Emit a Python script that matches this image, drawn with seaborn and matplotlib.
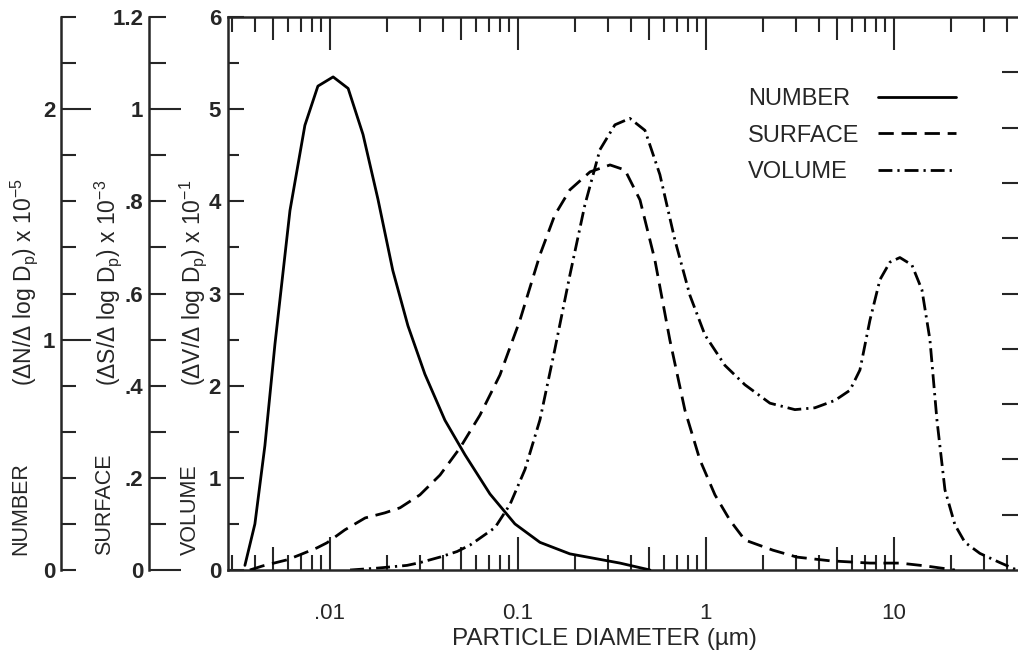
import matplotlib
matplotlib.use("Agg")
import matplotlib.pyplot as plt
import seaborn as sns
from matplotlib.ticker import FixedLocator, FixedFormatter, NullFormatter

## Data (diameter in um)
# number distribution, dN/dlogDp x 1e-5
number_d = [0.00353, 0.00399, 0.00451, 0.00510, 0.00613, 0.00736, 0.00863, 0.0104, 0.0125, 0.0150,
            0.0180, 0.0216, 0.0260, 0.0320, 0.0409, 0.0523, 0.0710, 0.0964, 0.131, 0.189, 0.349, 0.504]
number_v = [0.02, 0.20, 0.54, 0.98, 1.56, 1.93, 2.10, 2.14, 2.09, 1.89,
            1.61, 1.30, 1.06, 0.85, 0.65, 0.50, 0.33, 0.20, 0.12, 0.07, 0.03, 0.0]

# surface distribution, dS/dlogDp x 1e-3
surface_d = [0.00375, 0.00440, 0.00591, 0.00693, 0.00853, 0.00964, 0.0120, 0.0154, 0.0196, 0.0236,
             0.0301, 0.0385, 0.0492, 0.0628, 0.0802, 0.1025, 0.131, 0.157, 0.189, 0.242,
             0.309, 0.371, 0.446, 0.535, 0.643, 0.773, 0.929, 1.117, 1.342, 1.612,
             2.272, 3.048, 4.566, 7.454, 10.76, 14.62, 21.11]
surface_v = [0.0, 0.009, 0.022, 0.033, 0.048, 0.059, 0.087, 0.113, 0.124, 0.135,
             0.163, 0.206, 0.265, 0.336, 0.423, 0.542, 0.684, 0.770, 0.825, 0.864,
             0.879, 0.868, 0.803, 0.673, 0.499, 0.347, 0.239, 0.163, 0.108, 0.065,
             0.043, 0.028, 0.020, 0.015, 0.015, 0.009, 0.0]

# volume distribution, dV/dlogDp x 1e-1
volume_d = [0.0128, 0.0178, 0.0257, 0.0301, 0.0385, 0.0474, 0.0556, 0.0613, 0.0755, 0.0907,
            0.109, 0.131, 0.157, 0.189, 0.227, 0.273, 0.328, 0.394, 0.474, 0.569,
            0.684, 0.822, 0.988, 1.262, 1.612, 2.190, 2.974, 3.800, 4.855, 5.834,
            6.594, 7.454, 8.426, 9.522, 10.76, 12.46, 14.09, 15.54, 16.93, 18.68,
            21.11, 23.86, 28.67, 36.63, 45.11]
volume_v = [0.0, 0.02, 0.05, 0.08, 0.14, 0.20, 0.27, 0.33, 0.46, 0.71,
            1.09, 1.63, 2.39, 3.20, 3.96, 4.56, 4.83, 4.90, 4.77, 4.29,
            3.58, 2.98, 2.55, 2.22, 2.01, 1.81, 1.74, 1.76, 1.84, 1.95,
            2.17, 2.71, 3.15, 3.34, 3.39, 3.31, 3.04, 2.50, 1.63, 0.87,
            0.49, 0.30, 0.18, 0.08, 0.0]

x_major = [0.01, 0.1, 1, 10]
x_major_labels = ['.01', '0.1', '1', '10']
surface_ticks = [0, 0.2, 0.4, 0.6, 0.8, 1.0, 1.2]
surface_labels = ['0', '.2', '.4', '.6', '.8', '1', '1.2']
number_ticks = [0, 1, 2]
number_labels = ['0', '1', '2']
legend_labels = ['NUMBER', 'SURFACE', 'VOLUME']

sns.set_style("ticks")
plt.rcParams['font.family'] = ['Liberation Sans', 'DejaVu Sans']
plt.rcParams['mathtext.fontset'] = 'custom'
plt.rcParams['mathtext.rm'] = 'Liberation Sans'
plt.rcParams['axes.linewidth'] = 1.8

W, H = 1018, 654
fig = plt.figure(figsize=(W / 100, H / 100), dpi=100)
L0, R0, T0, B0 = 228, 1022, 17, 570
ax = fig.add_axes([L0 / W, 1 - B0 / H, (R0 - L0) / W, (B0 - T0) / H])
ax.set_xscale('log')
ax.set_xlim(0.00287, 48.0)
ax.set_ylim(0, 6)

ax_n = ax.twinx()
ax_s = ax.twinx()
ax_r = ax.twinx()
ax_n.set_ylim(0, 2.4)
ax_s.set_ylim(0, 1.2)
ax_r.set_ylim(0, 1)

lw = 2.0
sns.lineplot(x=volume_d, y=volume_v, ax=ax, color='black', linewidth=lw, sort=False, estimator=None)
sns.lineplot(x=number_d, y=number_v, ax=ax_n, color='black', linewidth=lw, sort=False, estimator=None)
sns.lineplot(x=surface_d, y=surface_v, ax=ax_s, color='black', linewidth=lw, sort=False, estimator=None)
line_v = ax.lines[-1]
line_n = ax_n.lines[-1]
line_s = ax_s.lines[-1]
line_s.set_linestyle((0, (5.5, 2.8)))
line_v.set_linestyle((0, (5.0, 1.8, 0.8, 1.8)))
for l in (line_v, line_n, line_s):
    l.set_solid_capstyle('round')
    l.set_dash_capstyle('butt')

for a in (ax, ax_n, ax_s, ax_r):
    a.set_xlabel('')
    a.set_ylabel('')

PT = 0.72  # pixels -> points

# main axis frame
ax.spines['right'].set_visible(False)
ax.xaxis.set_major_locator(FixedLocator(x_major))
ax.xaxis.set_major_formatter(FixedFormatter(x_major_labels))
x_minor = [m * 10.0 ** k for k in range(-3, 2) for m in range(2, 10) if 0.00287 < m * 10.0 ** k < 48]
ax.xaxis.set_minor_locator(FixedLocator(x_minor))
ax.xaxis.set_minor_formatter(NullFormatter())
ax.tick_params(axis='x', which='both', direction='in', top=True, bottom=True, width=1.5, labelsize=16, pad=24)
ax.tick_params(axis='x', which='major', length=33 * PT)
for t, loc in zip(ax.xaxis.get_minor_ticks(len(x_minor)), x_minor):
    mant = loc / 10 ** int(f"{loc:e}".split('e')[1])
    n = 23 * PT if round(mant, 3) == 5 else 15 * PT
    t.tick1line.set_markersize(n)
    t.tick2line.set_markersize(n)

ax.yaxis.set_major_locator(FixedLocator(range(0, 7)))
ax.yaxis.set_minor_locator(FixedLocator([i + 0.5 for i in range(6)]))
ax.tick_params(axis='y', which='both', direction='in', left=True, right=False, width=1.5)
ax.tick_params(axis='y', which='major', length=16 * PT, labelsize=16, pad=5)
ax.tick_params(axis='y', which='minor', length=11 * PT)
for lab in ax.get_yticklabels():
    lab.set_fontweight('bold')

# number and surface axes, offset to the left
for a, xpix, pad in ((ax_n, 61, 4), (ax_s, 149, 4)):
    for s in ('top', 'bottom', 'right'):
        a.spines[s].set_visible(False)
    a.spines['left'].set_visible(True)
    a.spines['left'].set_position(('axes', (xpix - L0) / (R0 - L0)))
    a.yaxis.tick_left()
    a.tick_params(axis='y', which='both', direction='in', left=True, right=False, width=1.5,
                  labelsize=16, pad=pad)

ax_n.yaxis.set_major_locator(FixedLocator(number_ticks))
ax_n.yaxis.set_major_formatter(FixedFormatter(number_labels))
n_minor = [round(0.2 * i, 1) for i in range(1, 13) if i % 5 != 0]
ax_n.yaxis.set_minor_locator(FixedLocator(n_minor))
ax_n.tick_params(axis='y', which='major', length=30 * PT)
ax_n.tick_params(axis='y', which='minor', length=15 * PT)
ax_n.yaxis.get_major_ticks(len(number_ticks))[0].tick1line.set_markersize(15 * PT)

ax_s.yaxis.set_major_locator(FixedLocator(surface_ticks))
ax_s.yaxis.set_major_formatter(FixedFormatter(surface_labels))
ax_s.yaxis.set_minor_locator(FixedLocator([0.1, 0.3, 0.5, 0.7, 0.9, 1.1]))
ax_s.tick_params(axis='y', which='both', length=17 * PT)
for t, loc in zip(ax_s.yaxis.get_major_ticks(len(surface_ticks)), surface_ticks):
    if loc in (0, 1.0):
        t.tick1line.set_markersize(32 * PT)

for a in (ax_n, ax_s):
    for lab in a.get_yticklabels():
        lab.set_fontweight('bold')

# right-hand frame ticks
for s in ('top', 'bottom', 'left', 'right'):
    ax_r.spines[s].set_visible(False)
ax_r.yaxis.set_major_locator(FixedLocator([i / 10 for i in range(1, 10)]))
ax_r.tick_params(axis='y', which='major', direction='in', right=True, left=False,
                 length=20 * PT, width=1.5, labelright=False)

# axis titles
fig.text(604 / W, 1 - 639 / H, 'PARTICLE DIAMETER (µm)', ha='center', va='center', fontsize=17.5)
side = [(21, 'NUMBER', r'($\Delta$N/$\Delta$ log D$_\mathregular{p}$) x 10$^\mathregular{-5}$'),
        (105, 'SURFACE', r'($\Delta$S/$\Delta$ log D$_\mathregular{p}$) x 10$^\mathregular{-3}$'),
        (190, 'VOLUME', r'($\Delta$V/$\Delta$ log D$_\mathregular{p}$) x 10$^\mathregular{-1}$')]
for xp, name, unit in side:
    fig.text(xp / W, 1 - 555 / H, name, rotation=90, rotation_mode='anchor',
             ha='left', va='center', fontsize=15.5)
    fig.text((xp + 3) / W, 1 - 386 / H, unit, rotation=90, rotation_mode='anchor',
             ha='left', va='center', fontsize=16.5)

leg = ax_r.legend(handles=[line_n, line_s, line_v], labels=legend_labels, markerfirst=False,
                  frameon=False, loc='upper left', bbox_to_anchor=(748 / W, 1 - 88 / H),
                  bbox_transform=fig.transFigure, borderaxespad=0, borderpad=0,
                  fontsize=17, handlelength=3.3, handletextpad=0.8, labelspacing=0.62)

# left-align the labels while keeping the line samples in one column
fig.canvas.draw()
col = leg._legend_handle_box.get_children()[0]
col.align = 'left'
widths = [t.get_window_extent().width for t in leg.get_texts()]
for item, w in zip(col.get_children(), widths):
    item.sep += (max(widths) - w) * 72 / fig.dpi

fig.savefig('out.png', dpi=100)
